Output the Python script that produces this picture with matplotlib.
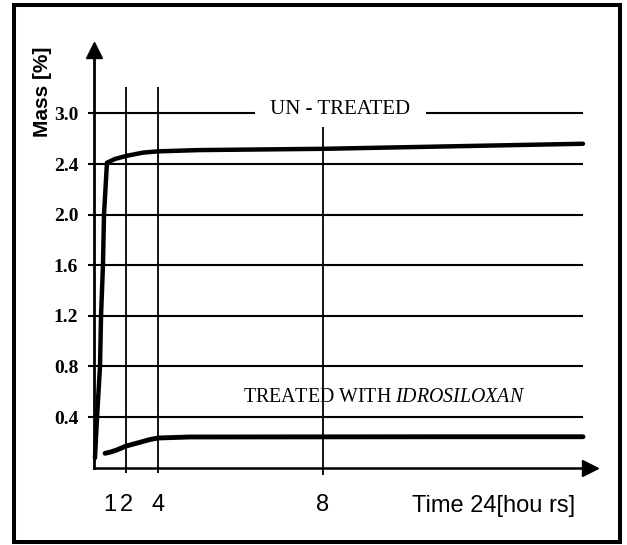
import numpy as np
import matplotlib
matplotlib.use("Agg")
import matplotlib.pyplot as plt
from matplotlib.patches import Rectangle

plt.rcParams.update({
    "mathtext.fontset": "custom",
    "mathtext.rm": "Liberation Serif",
    "mathtext.it": "Liberation Serif:italic",
})
SERIF = ["Liberation Serif", "DejaVu Serif"]
NARROW = ["Liberation Sans Narrow", "Liberation Sans", "DejaVu Sans"]

# ---- data (mass gain vs time) ----
grid_pos = [0.4, 0.8, 1.2, 1.6, 2.0, 2.4, 2.8]
grid_labels = ["0.4", "0.8", "1.2", "1.6", "2.0", "2.4", "3.0"]
time_ticks = [1, 2, 4, 8]
time_labels = ["1", "2", "4", "8"]
vline_hours = [2, 4, 8]

untreated_h = [0.06, 0.19, 0.375, 0.44, 0.56, 0.625, 0.81, 1.31, 2.06, 3.06,
               4.0, 5.0, 6.5, 8.0, 12.0, 16.0, 20.0, 24.0]
untreated_m = [0.076, 0.40, 0.80, 1.20, 1.60, 2.00, 2.41, 2.44, 2.465, 2.49,
               2.50, 2.51, 2.515, 2.52, 2.53, 2.54, 2.55, 2.56]
treated_h = [0.69, 1.0, 1.42, 2.0, 2.875, 3.5, 4.0, 4.78, 8.0, 16.0, 24.0]
treated_m = [0.113, 0.122, 0.139, 0.17, 0.20, 0.222, 0.234, 0.242, 0.243, 0.244, 0.244]

# piecewise time axis of the original sketch (hours -> drawing position)
H_KNOTS = [-10, 0, 4, 8, 24, 40]
P_KNOTS = [-160, 0, 64, 229, 489, 749]
fwd = lambda h: np.interp(h, H_KNOTS, P_KNOTS)
inv = lambda p: np.interp(p, P_KNOTS, H_KNOTS)

fig = plt.figure(figsize=(6.27, 5.45), dpi=100)
ax = fig.add_axes([70/627, 26.8/545, 545.5/627, 480.7/545])
ax.set_xscale("function", functions=(fwd, inv))
ax.set_xlim(-1.5, 26)
ax.set_ylim(-0.4, 3.4)

for s in ("top", "right"):
    ax.spines[s].set_visible(False)
ax.spines["left"].set_position(("data", 0))
ax.spines["bottom"].set_position(("data", 0))
ax.spines["left"].set_bounds(0, 3.3)
ax.spines["bottom"].set_bounds(0, 24.4)
ax.spines["left"].set_linewidth(2.0)
ax.spines["bottom"].set_linewidth(1.8)
# arrow heads
ax.plot(0, 3.30, marker="^", ms=12, color="k", clip_on=False)
ax.plot(24.4, 0, marker=">", ms=12, color="k", clip_on=False)

# grid
ax.hlines(grid_pos[:-1], 0, 24, color="k", lw=1.5)
ax.hlines([grid_pos[-1]] * 2, [0, 14.34], [6.35, 24], color="k", lw=1.5)
ax.vlines(vline_hours[:2], -0.045, 3.01, color="k", lw=1.3)
ax.vlines(vline_hours[2], -0.058, 2.69, color="k", lw=1.3)

ax.set_yticks(grid_pos, grid_labels, fontsize=14, fontweight="bold", fontfamily=SERIF)
ax.tick_params(axis="y", length=4.3, width=1.5, pad=7)
ax.set_xticks(time_ticks, time_labels, fontsize=17, fontfamily=NARROW)
ax.tick_params(axis="x", length=0, pad=19)
ax.minorticks_off()

ax.plot(untreated_h, untreated_m, color="k", lw=3.2, solid_capstyle="round")
ax.plot(treated_h, treated_m, color="k", lw=3.5, solid_capstyle="round")

ax.text(9.08, 2.83, "UN - TREATED", fontsize=15, fontfamily=SERIF,
        ha="center", va="center")
ax.text(6.06, 0.554, r"TREATED WITH $\mathit{IDROSILOXAN}$", fontsize=14.3,
        fontfamily=SERIF, ha="left", va="center")
ax.text(13.48, -0.30, "Time 24[hou rs]", fontsize=17, fontfamily=NARROW,
        ha="left", va="center")
ax.text(-3.2, 2.97, "Mass [%]", fontsize=15, fontweight="bold",
        fontfamily=["Liberation Sans", "DejaVu Sans"], rotation=90,
        ha="center", va="center", clip_on=False)

fig.patches.append(Rectangle((13.7/627, 3/545), 605.8/627, 536.7/545,
                             transform=fig.transFigure, fill=False,
                             lw=2.9, ec="k"))
fig.savefig("out.png", dpi=100)
